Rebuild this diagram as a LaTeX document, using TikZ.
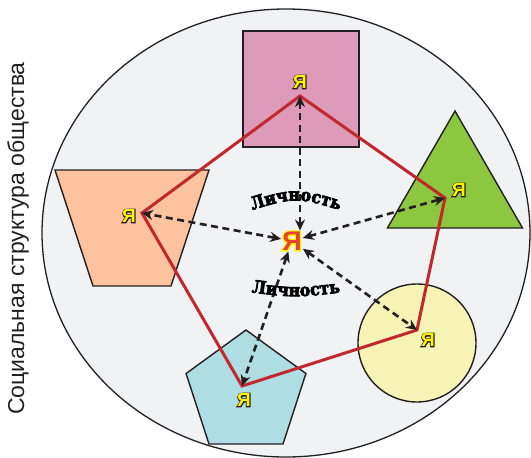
\documentclass[tikz,border=0pt]{standalone}
\usepackage{fontspec}
\setmainfont{Liberation Sans}
\newfontfamily\yafill{Liberation Sans Bold}
\newfontfamily\yaline{Liberation Sans Bold}[FakeBold=10]
\newfontfamily\lichfont{DejaVu Serif Condensed Bold}[FakeBold=4]
\usetikzlibrary{arrows.meta, shapes.geometric, decorations.text}
\definecolor{cink}{HTML}{231F20}
\definecolor{cback}{HTML}{F1F2F4}
\definecolor{cpink}{HTML}{DE9AB9}
\definecolor{cpeach}{HTML}{FDC29E}
\definecolor{cgreen}{HTML}{8DC63F}
\definecolor{clemon}{HTML}{F5F4B5}
\definecolor{cblue}{HTML}{AEDDE3}
\definecolor{cred}{HTML}{C1272D}
\definecolor{cyellow}{HTML}{FFF200}
\definecolor{cletter}{HTML}{E8412C}
\newcommand\yamark[4]{\rlap{\yaline\fontsize{#1}{#1}\selectfont\color{#2}#4}{\yafill\fontsize{#1}{#1}\selectfont\color{#3}#4}}
\newcommand\lichsize{\lichfont\fontsize{17.5}{17.5}\selectfont}
\tikzset{
  shapebox/.style={draw=cink, fill=#1, line width=1.4pt, inner sep=0pt},
  bond/.style={draw=cred, line width=3pt},
  dasharrow/.style={{Stealth[length=11pt, width=10pt]}-{Stealth[length=11pt, width=10pt]}, draw=cink, line width=2.6pt, dash pattern=on 7pt off 4.5pt},
  arcword/.style={decorate, decoration={text along path, text align=center, text={|\lichsize|#1}}},
}

\begin{document}
\begin{tikzpicture}[x=1pt, y=-1pt]
  \useasboundingbox (0,0) rectangle (531,458);
  \node[ellipse, draw=cink, fill=cback, line width=1.3pt, minimum width=488, minimum height=448] (society) at (286,233) {};
  \node[rotate=90, text=cink, font=\fontsize{23}{23}\selectfont] (caption) at (18,238.5) {Социальная структура общества};
  % figures
  \node[shapebox=cpink, rectangle, minimum size=116] (square) at (301,89) {};
  \draw[shapebox=cpeach] (55,170) -- (209,170) -- (171,286) -- (93,286) -- cycle;
  \node[shapebox=cgreen, regular polygon, regular polygon sides=3, minimum size=156] (tri) at (455,189) {};
  \node[shapebox=clemon, circle, minimum size=118] (disc) at (417,343) {};
  \node[shapebox=cblue, regular polygon, regular polygon sides=5, minimum size=126] (penta) at (246,393) {};
  % ties between the selves
  \coordinate (vs) at (300,96);
  \coordinate (vt) at (445,198);
  \coordinate (vc) at (417,330);
  \coordinate (vp) at (242,386);
  \coordinate (vz) at (142,213);
  \draw[bond] (vs) -- (vt) -- (vc) -- (vp) -- (vz) -- cycle;
  \node[inner sep=1pt] (me) at (292,241) {\yamark{27}{cyellow}{cletter}{Я}};
  \draw[dasharrow] (me.north -| vs) -- (vs);
  \foreach \v in {vt,vc,vp,vz}
    \draw[dasharrow] (me) -- (\v);
  \foreach \n/\px/\py in {square/300/82, trap/129/216, tri/459/190, disc/428/340, penta/244/400}
    \node[inner sep=0pt] (ya-\n) at (\px,\py) {\yamark{19}{cink}{cyellow}{Я}};
  % curved labels
  \path[arcword=Личность] (240,214) .. controls (296,196) .. (352,214);
  \path[arcword=Личность] (240,291) .. controls (296,298) .. (352,291);
\end{tikzpicture}
\end{document}
